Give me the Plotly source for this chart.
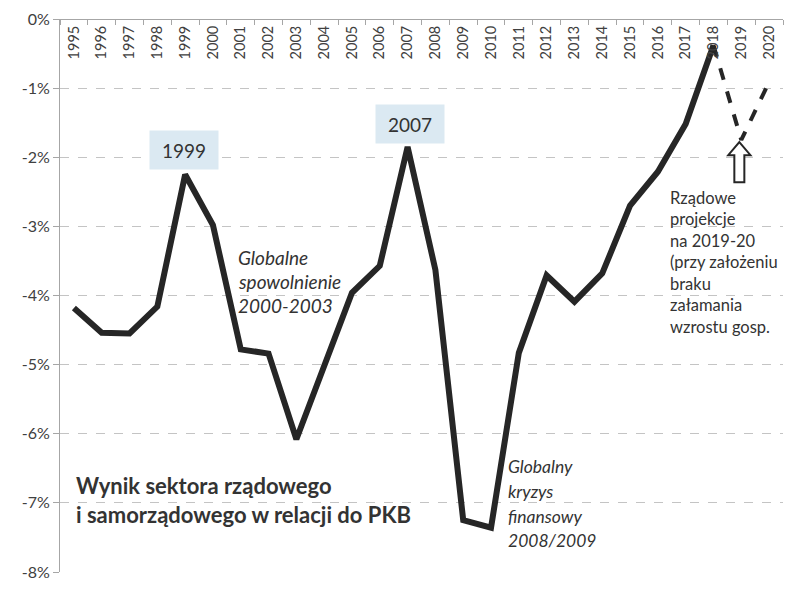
import plotly.graph_objects as go

years = [str(y) for y in range(1995, 2021)]
actual_years = years[:24]  # 1995-2018
actual_vals = [-4.18, -4.54, -4.55, -4.16, -2.25, -2.98, -4.78, -4.84, -6.08, -5.02,
               -3.96, -3.57, -1.85, -3.63, -7.25, -7.36, -4.83, -3.71, -4.09, -3.68,
               -2.70, -2.21, -1.52, -0.38]
proj_years = ["2018", "2019", "2020"]
proj_vals = [-0.38, -1.75, -0.91]

y_ticks = [0, -1, -2, -3, -4, -5, -6, -7, -8]
y_ticktext = ["0%", "-1%", "-2%", "-3%", "-4%", "-5%", "-6%", "-7%", "-8%"]

FONT = "Lato"
TXT = "#333333"

fig = go.Figure()
fig.add_trace(go.Scatter(x=actual_years, y=actual_vals, mode="lines",
                         line=dict(color="#262626", width=6), showlegend=False))
fig.add_trace(go.Scatter(x=proj_years, y=proj_vals, mode="lines",
                         line=dict(color="#262626", width=4, dash="dash"), showlegend=False))

fig.update_xaxes(type="category", categoryorder="array", categoryarray=years,
                 anchor="free", position=1.0, side="bottom", tickangle=-90,
                 tickson="boundaries", ticks="outside", ticklen=5, tickcolor="#a6a6a6",
                 showline=True, linecolor="#a6a6a6", linewidth=1, showgrid=False,
                 tickfont=dict(family=FONT, size=14.5, color="#404040"),
                 range=[-0.5, 25.5], automargin=False)
fig.update_yaxes(range=[-8, 0], tickvals=y_ticks, ticktext=y_ticktext,
                 ticks="outside", ticklen=6, tickcolor="#a6a6a6",
                 showline=True, linecolor="#a6a6a6", linewidth=1,
                 showgrid=True, gridcolor="#c4c4c4", griddash="dash", gridwidth=1,
                 zeroline=False, automargin=False,
                 tickfont=dict(family=FONT, size=16, color="#404040"))

def add_lines(lines, x, y0, step, size, italic=False, bold=False):
    for i, t in enumerate(lines):
        txt = t
        if bold:
            txt = "<b>" + t + "</b>"
        fig.add_annotation(x=x, y=y0 - i * step, xref="x", yref="y", text=txt,
                           showarrow=False, xanchor="left", yanchor="middle",
                           font=dict(family=FONT, size=size, color=TXT,
                                     style="italic" if italic else "normal"))

# year boxes
for label, xi, yv in [("1999", 3.97, -1.89), ("2007", 12.1, -1.52)]:
    fig.add_annotation(x=xi, y=yv, xref="x", yref="y", text=label, showarrow=False,
                       bgcolor="#dbe9f2", width=64, height=34, borderpad=2,
                       font=dict(family=FONT, size=19, color=TXT))

add_lines(["Globalne", "spowolnienie", "2000-2003"], 5.83, -3.45, 0.345, 19, italic=True)
add_lines(["Globalny", "kryzys", "finansowy", "2008/2009"], 15.55, -6.47, 0.36, 17.5, italic=True)
add_lines(["Rządowe", "projekcje", "na 2019-20", "(przy założeniu", "braku",
           "załamania", "wzrostu gosp."], 21.35, -2.59, 0.31, 16.5)
add_lines(["Wynik sektora rządowego", "i samorządowego w relacji do PKB"],
          0.02, -6.75, 0.42, 22, bold=True)

# hollow up arrow under 2019 projection
ax_tip, hy, by = 23.93, -1.78, -2.36
fig.add_shape(type="path", xref="x", yref="y",
              path=(f"M {ax_tip} {hy} L {ax_tip+0.40} -1.97 L {ax_tip+0.18} -1.97 "
                    f"L {ax_tip+0.18} {by} L {ax_tip-0.18} {by} L {ax_tip-0.18} -1.97 "
                    f"L {ax_tip-0.40} -1.97 Z"),
              line=dict(color="#262626", width=2), fillcolor="white")

fig.update_layout(width=793, height=585, margin=dict(l=52, r=18, t=11, b=21),
                  plot_bgcolor="white", paper_bgcolor="white",
                  font=dict(family=FONT), showlegend=False)

fig.write_html("out.html")
